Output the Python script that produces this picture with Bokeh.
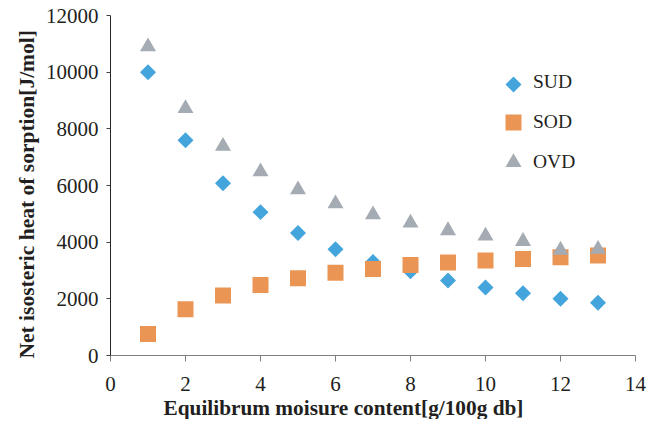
import math
from bokeh.plotting import figure
from bokeh.models import Range1d, FixedTicker, Legend, LegendItem, Title
from bokeh.embed import file_html
from bokeh.resources import INLINE

# ---- data ----
moisture = [1, 2, 3, 4, 5, 6, 7, 8, 9, 10, 11, 12, 13]
sud = [10000, 7600, 6080, 5060, 4320, 3750, 3300, 2970, 2650, 2400, 2200, 2000, 1860]
sod = [760, 1630, 2120, 2490, 2730, 2920, 3050, 3190, 3280, 3350, 3410, 3470, 3530]
ovd = [10900, 8720, 7390, 6490, 5850, 5360, 4970, 4680, 4410, 4220, 4030, 3720, 3750]
series_names = ["SUD", "SOD", "OVD"]
x_ticks = [0, 2, 4, 6, 8, 10, 12, 14]
x_tick_labels = ["0", "2", "4", "6", "8", "10", "12", "14"]
y_ticks = [0, 2000, 4000, 6000, 8000, 10000, 12000]
y_tick_labels = ["0", "2000", "4000", "6000", "8000", "10000", "12000"]
x_title = "Equilibrum moisure content[g/100g db]"
y_title = "Net isosteric heat of sorption[J/mol]"

BLUE = "#44A5DC"
ORANGE = "#EA9553"
GRAY = "#A5ABB3"
FONT = "Liberation Serif"
TXT = "#231f20"

X0, X1, Y0, Y1 = 0, 14, 0, 12000
W, H = 651, 419
ML, MR, MT, MB = 110, 16, 15, 64
FW, FH = W - ML - MR, H - MT - MB

p = figure(width=W, height=H, x_range=Range1d(X0, X1), y_range=Range1d(Y0, Y1),
           output_backend="svg", toolbar_location=None,
           min_border_left=ML, min_border_right=MR, min_border_top=MT, min_border_bottom=MB)
p.outline_line_color = None
p.grid.visible = False

r1 = p.scatter(moisture, sud, marker="square", size=11.3, angle=math.pi / 4,
               fill_color=BLUE, line_color=None)
r2 = p.scatter(moisture, sod, marker="square", size=16, fill_color=ORANGE, line_color=None)
r3 = p.scatter(moisture, ovd, marker="triangle", size=16, fill_color=GRAY, line_color=None)

xa = p.xaxis[0]
xa.ticker = FixedTicker(ticks=x_ticks)
xa.major_label_overrides = {t: l for t, l in zip(x_ticks, x_tick_labels)}
xa.axis_line_color = "#7f7f7f"
xa.major_tick_line_color = "#7f7f7f"
xa.major_tick_out = 6
xa.major_tick_in = 0
xa.minor_tick_line_color = None
xa.major_label_text_font = FONT
xa.major_label_text_font_size = "21px"
xa.major_label_text_color = TXT
xa.major_label_standoff = 15

ya = p.yaxis[0]
ya.ticker = FixedTicker(ticks=y_ticks)
ya.major_label_overrides = {t: l for t, l in zip(y_ticks, y_tick_labels)}
ya.axis_line_color = "#262626"
ya.major_tick_line_color = "#404040"
ya.major_tick_out = 4
ya.major_tick_in = 0
ya.minor_tick_line_color = None
ya.major_label_text_font = FONT
ya.major_label_text_font_size = "21px"
ya.major_label_text_color = TXT
ya.major_label_standoff = 8

p.add_layout(Title(text=x_title, text_font=FONT, text_font_size="21.3px", text_font_style="bold",
                   text_color=TXT, align="left", offset=53, standoff=0), "below")
p.add_layout(Title(text=y_title, text_font=FONT, text_font_size="21.5px", text_font_style="bold",
                   text_color=TXT, align="left", offset=-3, standoff=3,
                   vertical_align="top"), "left")

# legend
LEG_X, LEG_Y, GLYPH, SPACING = 383, 173, 40, -1
n_items = len(series_names)
leg_h = n_items * GLYPH + (n_items - 1) * SPACING
# SUD key: a rotated square drawn at the first legend row (legend keys ignore angle)
key_sx = LEG_X + GLYPH / 2
key_sy = LEG_Y + leg_h - GLYPH / 2
key_x = X0 + key_sx / FW * (X1 - X0)
key_y = Y0 + key_sy / FH * (Y1 - Y0)
p.scatter([key_x], [key_y], marker="square", size=11.3, angle=math.pi / 4,
          fill_color=BLUE, line_color=None)
helper = p.scatter([moisture[0]], [sud[0]], marker="square", size=1,
                   fill_alpha=0, line_alpha=0)

legend = Legend(items=[LegendItem(label=n, renderers=[r]) for n, r in zip(series_names, [helper, r2, r3])],
                location=(LEG_X, LEG_Y), orientation="vertical",
                glyph_width=GLYPH, glyph_height=GLYPH, spacing=SPACING, padding=0, margin=0,
                label_standoff=0, label_text_font=FONT, label_text_font_size="19.5px",
                label_text_color=TXT, border_line_color=None, background_fill_alpha=0)
p.add_layout(legend, "center")

open("out.html", "w").write(file_html(p, INLINE))
